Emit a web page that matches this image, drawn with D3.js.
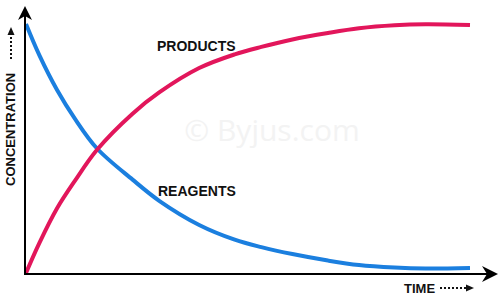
<!DOCTYPE html>
<html>
<head>
<meta charset="utf-8">
<script src="https://cdn.jsdelivr.net/npm/d3@7"></script>
<style>
  body { margin: 0; background: #fff; }
  svg { display: block; }
  text { font-family: "Liberation Sans", Arial, sans-serif; font-weight: bold; }
</style>
</head>
<body>
<svg id="chart" width="502" height="301"></svg>
<script>
// time points (arbitrary units) and concentrations (% of max)
const times = [0, 3, 7, 11, 16, 24, 30, 39, 47, 53, 60, 68, 75, 83, 90, 100];
const reagents = [100, 87.5, 73.5, 62, 50, 37.5, 29, 19.3, 13.4, 10.4, 7.6, 5, 3.2, 2.2, 1.8, 2.0];
const products = [0, 12, 26, 37, 49.5, 64, 72.5, 82.3, 87.8, 90.8, 93.8, 96.4, 98.3, 99.5, 99.9, 99.6];
const seriesNames = ['REAGENTS', 'PRODUCTS'];
const colors = ['#1b7fdf', '#e2165b'];

const svg = d3.select('#chart');

const plotLeft = 25, plotBottom = 274, plotTop = 24, plotRight = 470;
const x = d3.scaleLinear().domain([0, 100]).range([plotLeft + 1, plotRight]);
const y = d3.scaleLinear().domain([0, 100]).range([plotBottom - 1, plotTop]);

// faint watermark
svg.append('text')
  .attr('x', 272).attr('y', 141)
  .attr('text-anchor', 'middle')
  .style('font-family', '"Open Sans", sans-serif')
  .style('font-weight', 'normal')
  .style('font-size', '30px')
  .attr('fill', '#f3f3f3')
  .text('© Byjus.com');

const line = d3.line()
  .x(d => x(d[0]))
  .y(d => y(d[1]))
  .curve(d3.curveCatmullRom.alpha(0.5));

const series = [reagents, products];
svg.selectAll('path.curve')
  .data(series)
  .enter()
  .append('path')
  .attr('class', 'curve')
  .attr('d', (vals) => line(times.map((t, i) => [t, vals[i]])))
  .attr('fill', 'none')
  .attr('stroke', (d, i) => colors[i])
  .attr('stroke-width', 4);

// axes
const axis = svg.append('g').attr('stroke', '#000').attr('stroke-width', 2);
axis.append('line').attr('x1', plotLeft).attr('x2', plotLeft).attr('y1', plotBottom + 1).attr('y2', 12);
axis.append('line').attr('x1', plotLeft - 1).attr('x2', 490).attr('y1', plotBottom).attr('y2', plotBottom);

// arrow heads
svg.append('path')
  .attr('d', `M${plotLeft},6 L${plotLeft + 7},20 L${plotLeft},16 L${plotLeft - 7},20 Z`)
  .attr('fill', '#000');
svg.append('path')
  .attr('d', `M498,${plotBottom} L482,${plotBottom - 8} L487,${plotBottom} L482,${plotBottom + 8} Z`)
  .attr('fill', '#000');

// axis titles with dotted arrows
svg.append('text')
  .attr('transform', 'translate(15,186) rotate(-90)')
  .style('font-size', '13px')
  .attr('fill', '#111')
  .text('CONCENTRATION');
svg.append('line')
  .attr('x1', 11).attr('x2', 11).attr('y1', 59).attr('y2', 34)
  .attr('stroke', '#111').attr('stroke-width', 2).attr('stroke-dasharray', '2,2');
svg.append('path').attr('d', 'M11,27 L14.5,35 L7.5,35 Z').attr('fill', '#111');

svg.append('text')
  .attr('x', 404).attr('y', 293)
  .style('font-size', '13px')
  .attr('fill', '#111')
  .text('TIME');
svg.append('line')
  .attr('x1', 440).attr('x2', 466).attr('y1', 288).attr('y2', 288)
  .attr('stroke', '#111').attr('stroke-width', 2).attr('stroke-dasharray', '2,2');
svg.append('path').attr('d', 'M474,288 L466,284.5 L466,291.5 Z').attr('fill', '#111');

// series labels
const labelPos = [[158, 196], [157, 51]];
svg.selectAll('text.lbl')
  .data(seriesNames)
  .enter()
  .append('text')
  .attr('class', 'lbl')
  .attr('x', (d, i) => labelPos[i][0])
  .attr('y', (d, i) => labelPos[i][1])
  .style('font-size', '14px')
  .attr('fill', '#111')
  .text(d => d);
</script>
</body>
</html>
